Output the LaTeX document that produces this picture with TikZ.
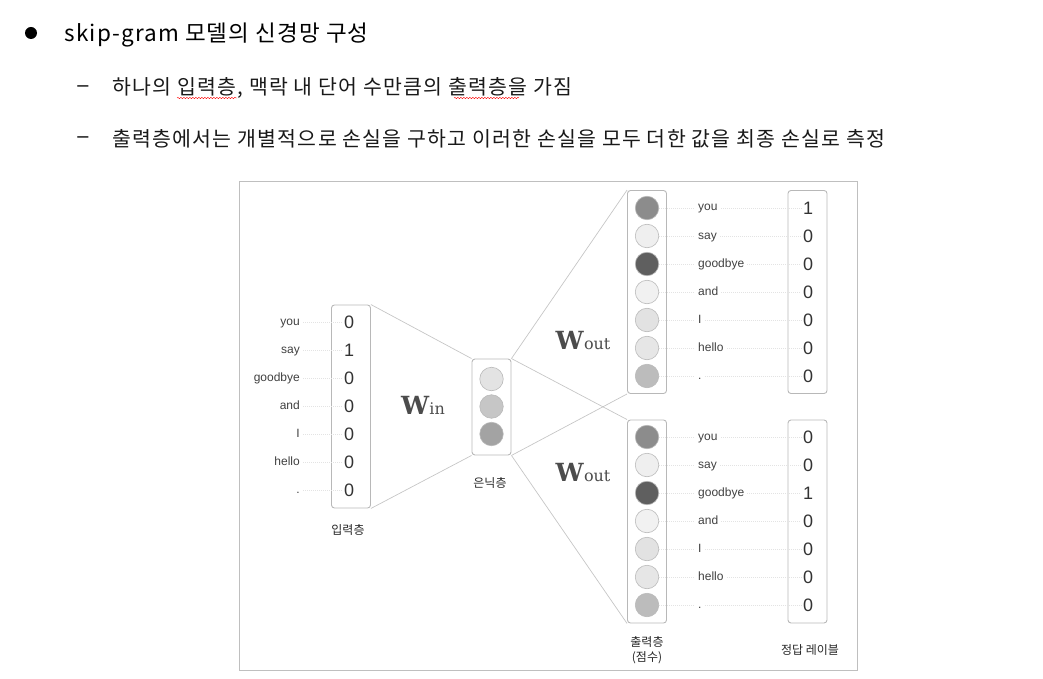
\documentclass[tikz,border=0pt]{standalone}
\usepackage{fontspec}
\setmainfont{Liberation Sans}
\newfontfamily\krfont{Noto Sans CJK KR}
\newfontfamily\krwide{Noto Sans CJK KR}[LetterSpace=5]
\newfontfamily\kritem{Noto Sans CJK KR}[LetterSpace=6]
\newfontfamily\wfont{DejaVu Serif}
\usetikzlibrary{decorations.pathmorphing}
\definecolor{boxgray}{HTML}{B8B8B8}
\definecolor{o1}{HTML}{8C8C8C}
\definecolor{o2}{HTML}{EFEFEF}
\definecolor{o3}{HTML}{5F5F5F}
\definecolor{o4}{HTML}{F1F1F1}
\definecolor{o5}{HTML}{E2E2E2}
\definecolor{o6}{HTML}{E6E6E6}
\definecolor{o7}{HTML}{BCBCBC}
\definecolor{h1}{HTML}{E3E3E3}
\definecolor{h2}{HTML}{C6C6C6}
\definecolor{h3}{HTML}{A3A3A3}
\tikzset{
  box/.style={draw=boxgray, line width=0.9pt, rounded corners=3pt, minimum width=39pt, inner sep=0pt},
  unit/.style={circle, draw=gray!55, line width=0.6pt, minimum size=23.5pt, inner sep=0pt},
  link/.style={draw=gray!45, line width=0.7pt},
  guide/.style={draw=gray!22, line width=0.5pt, dash pattern=on 1pt off 1pt},
  word/.style={font=\fontsize{12}{13}\selectfont, text=black!75, inner sep=3pt, text height=8.5pt, text depth=2.5pt},
  val/.style={font=\fontsize{18}{18}\selectfont, text=black!80, inner sep=2pt},
  lbl/.style={font=\krfont\fontsize{12}{14}\selectfont, text=black!85, align=center},
  wlabel/.style={text=black!70, inner sep=0pt},
  dashmark/.style={font=\fontsize{20}{22}\selectfont},
  itemtext/.style={anchor=west, font=\kritem\fontsize{20.5}{22}\selectfont, text=black!90}
}
\begin{document}
\begin{tikzpicture}[x=1pt, y=-1pt]  %skip-gram network
    \useasboundingbox (0,0) rectangle (1043,679);
    % heading
    \node[circle, fill=black, minimum size=12pt, inner sep=0pt] (dot) at (31,33) {};
    \node[anchor=west, font=\krwide\fontsize{22.5}{24}\selectfont] (title) at (61,35) {skip-gram 모델의 신경망 구성};
    \node[dashmark] (d1) at (83,89) {–};
    \node[dashmark] (d2) at (83,140) {–};
    \node[itemtext] (item1) at (109,88) {하나의 입력층, 맥락 내 단어 수만큼의 출력층을 가짐};
    \node[itemtext] (item2) at (109,139) {출력층에서는 개별적으로 손실을 구하고 이러한 손실을 모두 더한 값을 최종 손실로 측정};
    \draw[red, line width=0.4pt, decorate, decoration={snake, amplitude=0.7pt, segment length=3pt}] (177,98) -- (237,98);
    \draw[red, line width=0.4pt, decorate, decoration={snake, amplitude=0.7pt, segment length=3pt}] (454,98) -- (519,98);

    % figure frame
    \draw[gray!50, line width=0.6pt] (239,181) rectangle (857,670);

    % boxes
    \node[box, minimum height=203pt] (inbox) at (351,406.5) {};
    \node[box, minimum height=96pt] (hid) at (491.5,407) {};
    \node[box, minimum height=203pt] (topbox) at (647,292) {};
    \node[box, minimum height=203pt] (botbox) at (647,521.5) {};
    \node[box, minimum height=203pt] (toplab) at (807.5,292) {};
    \node[box, minimum height=203pt] (botlab) at (807.5,521.5) {};

    % weights
    \draw[link] (inbox.north east) -- (hid.north west);
    \draw[link] (inbox.south east) -- (hid.south west);
    \draw[link] (hid.north east) -- (topbox.north west);
    \draw[link] (hid.north east) -- (botbox.north west);
    \draw[link] (hid.south east) -- (topbox.south west);
    \draw[link] (hid.south east) -- (botbox.south west);

    % input layer
    \foreach \w/\v [count=\i] in {you/0,say/1,goodbye/0,and/0,I/0,hello/0,./0} {
        \node[val] (iv\i) at (349,294+28*\i) {\v};
        \node[word, anchor=east] (iw\i) at (303,294+28*\i) {\w};
        \draw[guide] (iw\i) -- (iv\i);
    }

    % hidden layer
    \node[unit, fill=h1] (hu1) at (491.5,379) {};
    \node[unit, fill=h2] (hu2) at (491.5,406.5) {};
    \node[unit, fill=h3] (hu3) at (491.5,434) {};

    % output layers and labels
    \foreach \w/\a/\b [count=\i] in {you/1/0,say/0/0,goodbye/0/1,and/0/0,I/0/0,hello/0/0,./0/0} {
        \node[unit, fill=o\i] (tu\i) at (647,180+28*\i) {};
        \node[word, anchor=west] (tw\i) at (695,180+28*\i) {\w};
        \node[val] (tv\i) at (808,180+28*\i) {\a};
        \draw[guide] (tu\i) -- (tw\i);
        \draw[guide] (tw\i) -- (tv\i);
        \node[unit, fill=o\i] (bu\i) at (647,409+28*\i) {};
        \node[word, anchor=west] (bw\i) at (695,409+28*\i) {\w};
        \node[val] (bv\i) at (808,409+28*\i) {\b};
        \draw[guide] (bu\i) -- (bw\i);
        \draw[guide] (bw\i) -- (bv\i);
    }

    % weight names
    \node[wlabel] (win) at (423,405) {\wfont\fontsize{25}{25}\selectfont\textbf{W}\fontsize{16}{16}\selectfont in};
    \node[wlabel] (wout1) at (583,340) {\wfont\fontsize{25}{25}\selectfont\textbf{W}\fontsize{16}{16}\selectfont out};
    \node[wlabel] (wout2) at (583,472) {\wfont\fontsize{25}{25}\selectfont\textbf{W}\fontsize{16}{16}\selectfont out};

    % captions
    \node[lbl] (incap) at (348,530) {입력층};
    \node[lbl] (hidcap) at (490,483) {은닉층};
    \node[lbl, font=\krfont\fontsize{12}{15}\selectfont] (outcap) at (647,650) {출력층\\(점수)};
    \node[lbl] (labcap) at (810,650) {정답 레이블};
\end{tikzpicture}
\end{document}
